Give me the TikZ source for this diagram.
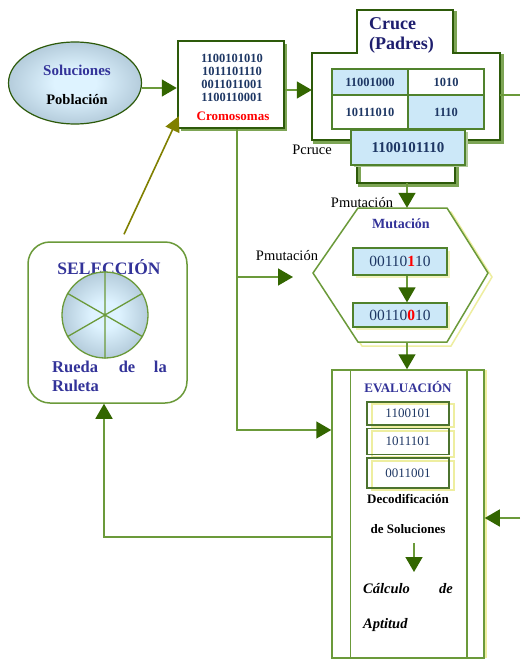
\documentclass[tikz,border=0pt]{standalone}
\usepackage{fontspec}
\setmainfont{Liberation Serif}
\usetikzlibrary{arrows.meta,shapes.geometric,shadows,calc}
\definecolor{lgreen}{RGB}{107,154,58}
\definecolor{dgreen}{RGB}{51,102,0}
\definecolor{bgreen}{RGB}{45,90,10}
\definecolor{shgreen}{RGB}{125,165,85}
\definecolor{tgreen}{RGB}{80,130,45}
\definecolor{navy}{RGB}{51,51,153}
\definecolor{dnavy}{RGB}{30,30,110}
\definecolor{numblue}{RGB}{30,55,100}
\definecolor{lblue}{RGB}{204,232,248}
\definecolor{olivec}{RGB}{128,128,0}
\definecolor{pyellow}{RGB}{238,238,160}
\definecolor{gin}{RGB}{222,243,255}
\definecolor{gout}{RGB}{125,152,172}
\pgfdeclareradialshading{ballshade}{\pgfpointorigin}{color(0bp)=(gin); color(8bp)=(gin); color(48bp)=(gout); color(50bp)=(gout)}
\begin{document}
\begin{tikzpicture}[x=1pt,y=-1pt,
  line/.style={draw=lgreen,line width=1.5pt},
  arr/.style={line,-{Triangle[length=15pt,width=17pt,color=dgreen]}},
  oarr/.style={draw=olivec,line width=1.6pt,-{Triangle[length=15pt,width=15pt,color=olivec]}},
  lbl/.style={inner sep=0pt},
  bnum/.style={font=\fontsize{12.5}{13}\selectfont\bfseries,text=numblue},
  cell/.style={draw=tgreen,line width=1.2pt,minimum width=76pt,inner sep=0pt,font=\fontsize{12.5}{14}\selectfont\bfseries,text=numblue},
  mbox/.style={draw=tgreen,line width=1.3pt,fill=lblue,minimum width=94pt,inner sep=0pt,font=\fontsize{15.5}{17}\selectfont,text=numblue,general shadow={shadow xshift=3pt,shadow yshift=-3pt,fill=pyellow!70}},
  ebox/.style={draw=bgreen!85,line width=1.3pt,minimum width=82pt,inner sep=0pt,font=\fontsize{13}{15}\selectfont,text=numblue},
  ttl/.style={lbl,font=\fontsize{15}{17}\selectfont\bfseries,text=navy},
  plain/.style={lbl,font=\fontsize{14.5}{16}\selectfont},
  bitalic/.style={lbl,font=\fontsize{14.5}{16}\selectfont\bfseries\itshape},
  rueda/.style={lbl,font=\fontsize{16.5}{18}\selectfont\bfseries,text=navy}
]
\fill[white] (0,0) rectangle (520,661);
\useasboundingbox (0,0) rectangle (520,661);

% ---------- Poblacion ellipse
\node[ellipse,draw=bgreen,line width=1.2pt,shading=ballshade,minimum width=133pt,minimum height=82pt,inner sep=0pt] (pob) at (75,83) {};
\node[ttl] (tsol) at (77,70) {Soluciones};
\node[lbl,font=\fontsize{14.5}{16}\selectfont\bfseries] (tpob) at (77,100) {Población};

% ---------- Cromosomas
\node[draw=bgreen,line width=2.5pt,fill=white,general shadow={shadow xshift=3pt,shadow yshift=-3pt,fill=shgreen},minimum width=106pt,minimum height=87pt,inner sep=0pt] (crom) at (231,84.5) {};
\node[lbl,bnum,align=center] (bits) at (232,77.5) {1100101010\\1011101110\\0011011001\\1100110001};
\node[lbl,font=\fontsize{13}{14}\selectfont\bfseries,text=red] (tcrom) at (233,116) {Cromosomas};

% ---------- Cruce
\draw[shgreen,line width=2.5pt,shift={(2.5,2.5)}] (312,140) -- (312,53) -- (357,53) -- (357,10) -- (453,10) -- (453,53) -- (500,53) -- (500,140) -- cycle;
\draw[bgreen,line width=2.5pt,fill=white] (312,140) -- (312,53) -- (357,53) -- (357,10) -- (453,10) -- (453,53) -- (500,53) -- (500,140) -- cycle;
\node[minimum width=188pt,minimum height=87pt,inner sep=0pt] (cruce) at (406,96.5) {};
\node[lbl,anchor=west,align=left,font=\fontsize{18}{20}\selectfont\bfseries,text=dnavy] (tcruce) at (369,35) {Cruce\\(Padres)};
\node[cell,fill=lblue,minimum height=26pt] (c11) at (370,82) {11001000};
\node[cell,fill=white,minimum height=26pt] (c12) at (446,82) {1010};
\node[cell,fill=white,minimum height=34pt] (c21) at (370,112) {10111010};
\node[cell,fill=lblue,minimum height=34pt] (c22) at (446,112) {1110};
\draw[shgreen,line width=2.5pt] (359.5,165) -- (359.5,185.5) -- (457.5,185.5) -- (457.5,165);
\draw[bgreen,line width=2.5pt] (357,165) -- (357,183) -- (455,183) -- (455,165);
\node[draw=tgreen,line width=1.2pt,fill=lblue,general shadow={shadow xshift=2.5pt,shadow yshift=-2pt,fill=shgreen!60},minimum width=114pt,minimum height=35pt,inner sep=0pt,font=\fontsize{15}{16}\selectfont\bfseries,text=numblue] (pc) at (408,147.5) {1100101110};
\node[plain] (tpc) at (312,150) {Pcruce};
\coordinate (ub) at (407,183);

% ---------- Mutacion hexagon
\draw[pyellow,line width=1.5pt,shift={(4,4)}] (313,273) -- (358,208) -- (447,208) -- (488,273) -- (447,342) -- (358,342) -- cycle;
\draw[lgreen,line width=1.5pt,fill=white] (313,273) -- (358,208) -- (447,208) -- (488,273) -- (447,342) -- (358,342) -- cycle;
\node[minimum width=175pt,minimum height=134pt,inner sep=0pt] (mut) at (400.5,275) {};
\node[plain] (tpm1) at (362,203) {Pmutación};
\node[lbl,font=\fontsize{14}{16}\selectfont\bfseries,text=navy] (tmut) at (401,224) {Mutación};
\node[mbox,minimum height=27pt] (m1) at (400,261.5) {00110{\bfseries\color{red}1}10};
\node[mbox,minimum height=24pt] (m2) at (400,315) {00110{\bfseries\color{red}0}10};
\draw[arr] ([xshift=7pt]m1.south) -- ([xshift=7pt]m2.north);

% ---------- Evaluacion
\node[draw=lgreen,line width=1.5pt,fill=white,general shadow={shadow xshift=2.5pt,shadow yshift=0pt,fill=pyellow},minimum width=152pt,minimum height=288pt,inner sep=0pt] (eval) at (408,514) {};
\draw[line] ([xshift=19pt]eval.north west) -- ([xshift=19pt]eval.south west);
\draw[line] ([xshift=-18pt]eval.north east) -- ([xshift=-18pt]eval.south east);
\node[lbl,font=\fontsize{13}{15}\selectfont\bfseries,text=navy] (teval) at (408,387) {EVALUACIÓN};
\draw[pyellow,line width=1.3pt] (372,404) rectangle (454,427);
\draw[pyellow,line width=1.3pt] (372,431) rectangle (454,457);
\draw[pyellow,line width=1.3pt] (372,461) rectangle (454,490);
\node[ebox,minimum height=23pt] (e1) at (408,413.5) {1100101};
\node[ebox,minimum height=26pt] (e2) at (408,441.5) {1011101};
\node[ebox,minimum height=30pt] (e3) at (408,473) {0011001};
\node[lbl,font=\fontsize{13}{15}\selectfont\bfseries] (tdec) at (408,499) {Decodificación};
\node[lbl,font=\fontsize{13}{15}\selectfont\bfseries] (tdes) at (408,529) {de Soluciones};
\coordinate (da) at (414,543);
\coordinate (db) at (414,572);
\draw[arr] (da) -- (db);
\node[bitalic,anchor=west] (tcal) at (363,589) {Cálculo};
\node[bitalic,anchor=east] (tde) at (453,589) {de};
\node[bitalic,anchor=west] (tapt) at (363,625) {Aptitud};

% ---------- Seleccion
\node[draw=lgreen,line width=1.5pt,rounded corners=22pt,fill=white,minimum width=159pt,minimum height=161pt,inner sep=0pt] (sel) at (107.5,322.5) {};
\node[lbl,font=\fontsize{17.5}{19}\selectfont\bfseries,text=navy] (tsel) at (109,267) {SELECCIÓN};
\node[circle,draw=lgreen,line width=1.3pt,shading=ballshade,minimum size=86pt,inner sep=0pt] (wheel) at (105,315) {};
\draw[lgreen,line width=1.3pt] (wheel.90) -- (wheel.270) (wheel.30) -- (wheel.210) (wheel.150) -- (wheel.330);
\node[rueda,anchor=west] (true) at (52,367) {Rueda};
\node[rueda] (trde) at (127,367) {de};
\node[rueda,anchor=east] (trla) at (167,367) {la};
\node[rueda,anchor=west] (trul) at (52,386) {Ruleta};

% ---------- connectors
\draw[arr] ([yshift=-5pt]pob.east) -- ([yshift=-5pt]pob.east -| crom.west);
\draw[arr] ([yshift=-5.5pt]crom.east) -- ([yshift=-5.5pt]crom.east -| cruce.west);
\coordinate (rout) at (520,95);
\draw[line] (rout -| cruce.east) -- (rout);
\draw[arr] (ub) -- (ub |- mut.north);
\draw[arr] (ub |- mut.south) -- (ub |- eval.north);
\coordinate (lv) at ([xshift=6pt]crom.south);
\coordinate (pm) at (293,277);
\draw[arr] (lv) |- ([yshift=84pt]eval.west);
\draw[arr] (lv |- pm) -- (pm);
\node[plain] (tpm2) at (287,256) {Pmutación};
\draw[arr] ([yshift=-23pt]eval.west) -| ([xshift=-3.5pt]sel.south);
\coordinate (rin) at (520,518);
\draw[arr] (rin) -- (rin -| eval.east);
\coordinate (otail) at ([xshift=16.5pt,yshift=7pt]sel.north);
\draw[oarr] (otail) -- ([xshift=2pt,yshift=13pt]crom.south west);
\end{tikzpicture}
\end{document}
